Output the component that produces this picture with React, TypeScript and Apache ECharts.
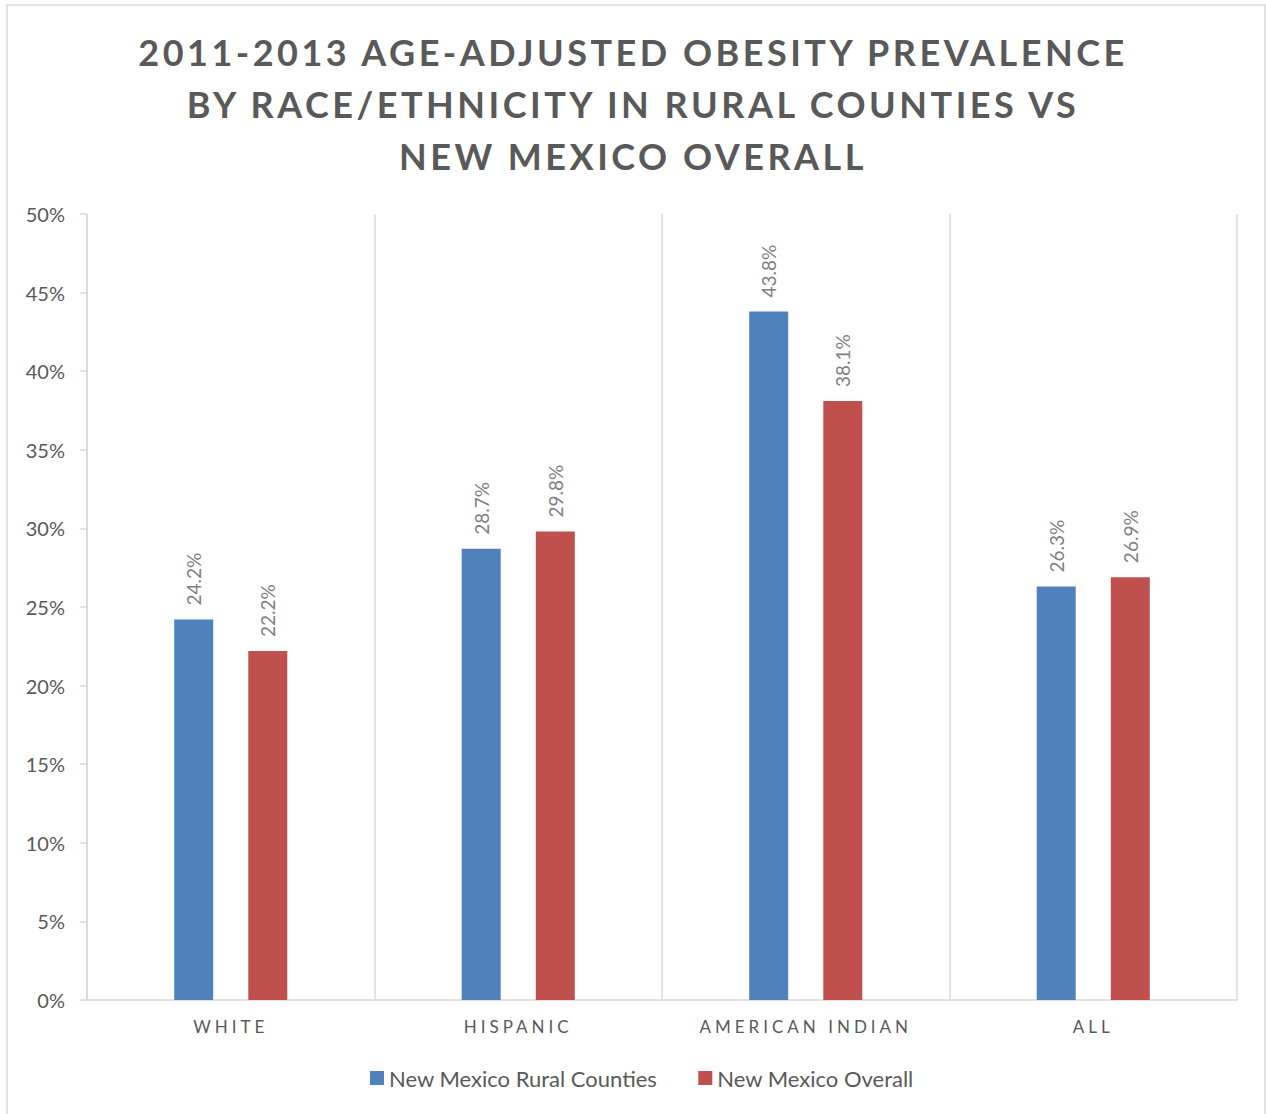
import React, { useEffect, useRef } from "react";
import * as echarts from "echarts";

const titleLines = [
  "2011-2013 AGE-ADJUSTED OBESITY PREVALENCE",
  "BY RACE/ETHNICITY IN RURAL COUNTIES VS",
  "NEW MEXICO OVERALL",
];
const categories = ["WHITE", "HISPANIC", "AMERICAN INDIAN", "ALL"];
const seriesNames = ["New Mexico Rural Counties", "New Mexico Overall"];
const ruralValues = [24.2, 28.7, 43.8, 26.3];
const overallValues = [22.2, 29.8, 38.1, 26.9];
const colors = ["#4F81BD", "#C0504D"];

const TEXT = "#595959";
const LINE = "#D9D9D9";

export default function App() {
  const ref = useRef<HTMLDivElement>(null);

  useEffect(() => {
    if (!ref.current) return;
    const chart = echarts.init(ref.current, undefined, { renderer: "svg" });
    const label = {
      show: true,
      position: "top",
      rotate: 90,
      align: "left",
      verticalAlign: "middle",
      distance: 14,
      color: "#7F7F7F",
      fontSize: 19,
      fontFamily: "Lato",
      formatter: (p: any) => p.value.toFixed(1) + "%",
    };
    chart.setOption({
      animation: false,
      backgroundColor: "#FFFFFF",
      textStyle: { fontFamily: "Lato" },
      title: {
        text: titleLines.join("\n"),
        left: "center",
        top: 21,
        textStyle: {
          fontFamily: "Lato",
          fontWeight: "bold",
          fontSize: 36,
          lineHeight: 52,
          color: TEXT,
        },
      },
      graphic: [
        {
          type: "rect",
          shape: { x: 7, y: 5, width: 1258, height: 1120 },
          style: { fill: "none", stroke: LINE, lineWidth: 1.5 },
          silent: true,
          z: -10,
        },
      ],
      grid: { left: 87, right: 29, top: 214, bottom: 114 },
      legend: {
        bottom: 20,
        left: 365,
        itemWidth: 14,
        itemHeight: 14,
        itemGap: 41,
        icon: "rect",
        textStyle: { color: TEXT, fontSize: 22, fontFamily: "Lato" },
        data: seriesNames,
      },
      xAxis: {
        type: "category",
        data: categories,
        axisLine: { show: true, lineStyle: { color: LINE, width: 1.5 } },
        axisTick: { show: false },
        splitLine: { show: true, lineStyle: { color: LINE, width: 1.5 } },
        axisLabel: {
          color: TEXT,
          fontSize: 17,
          fontFamily: "'Lato', sans-serif",
          margin: 18,
        },
      },
      yAxis: {
        type: "value",
        min: 0,
        max: 50,
        interval: 5,
        axisLine: { show: true, lineStyle: { color: LINE, width: 1.5 } },
        axisTick: { show: true, length: 7, lineStyle: { color: LINE, width: 1.5 } },
        splitLine: { show: false },
        axisLabel: {
          color: TEXT,
          fontSize: 20,
          fontFamily: "Lato",
          margin: 22,
          formatter: "{value}%",
        },
      },
      series: [
        {
          name: seriesNames[0],
          type: "bar",
          data: ruralValues,
          barWidth: 39,
          barGap: "90%",
          itemStyle: { color: colors[0] },
          label,
        },
        {
          name: seriesNames[1],
          type: "bar",
          data: overallValues,
          barWidth: 39,
          barGap: "90%",
          itemStyle: { color: colors[1] },
          label,
        },
      ],
    });
    return () => chart.dispose();
  }, []);

  return (
    <>
      <style>{`
        .nm-chart text[style*="bold"] { letter-spacing: 3.5px; }
        .nm-chart text[style*="sans-serif"] { letter-spacing: 4px; }
      `}</style>
      <div
        ref={ref}
        className="nm-chart"
        style={{ position: "absolute", left: 0, top: 0, width: 1266, height: 1114 }}
      />
    </>
  );
}
